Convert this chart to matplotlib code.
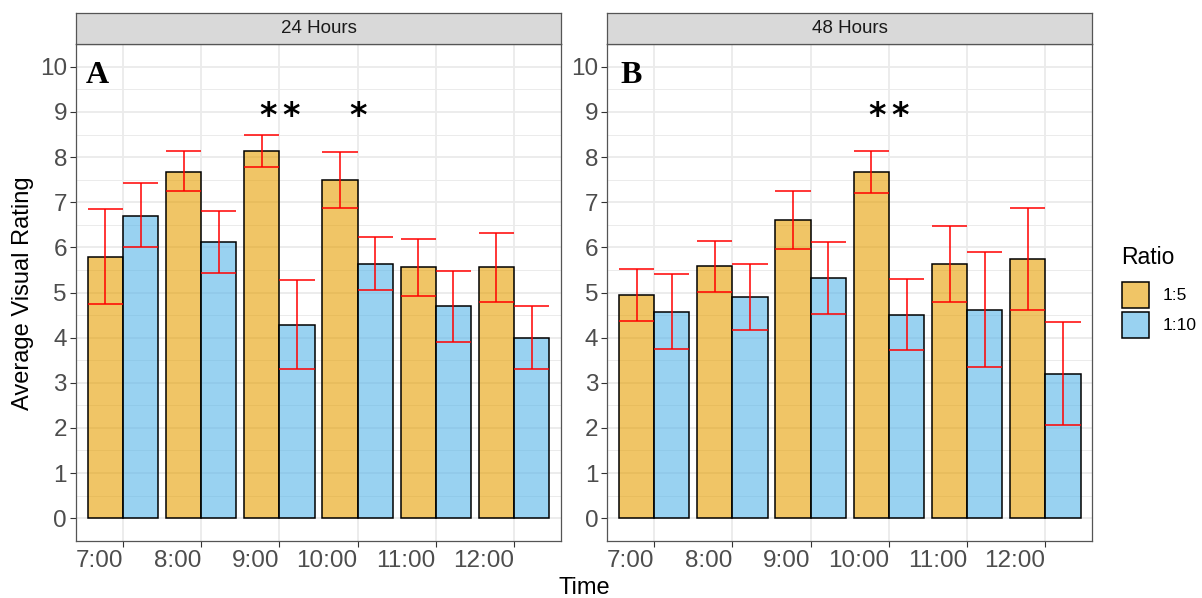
import numpy as np
import matplotlib
matplotlib.use("Agg")
import matplotlib.pyplot as plt
from matplotlib.patches import Rectangle
from matplotlib.colors import to_rgba

plt.rcParams['font.family'] = ['Liberation Sans', 'DejaVu Sans']

# ---------------- data ----------------
times = ["7:00", "8:00", "9:00", "10:00", "11:00", "12:00"]
panels = ["24 Hours", "48 Hours"]
panel_letters = ["A", "B"]
ratios = ["1:5", "1:10"]

# 24 hours
mean_24_r5 = [5.79, 7.68, 8.14, 7.49, 5.56, 5.56]
lo_24_r5 = [4.74, 7.25, 7.77, 6.88, 4.93, 4.79]
hi_24_r5 = [6.84, 8.13, 8.50, 8.11, 6.19, 6.32]
mean_24_r10 = [6.70, 6.11, 4.29, 5.63, 4.69, 4.00]
lo_24_r10 = [6.00, 5.44, 3.31, 5.05, 3.90, 3.30]
hi_24_r10 = [7.43, 6.80, 5.27, 6.22, 5.48, 4.69]

# 48 hours
mean_48_r5 = [4.94, 5.58, 6.60, 7.67, 5.63, 5.75]
lo_48_r5 = [4.36, 5.02, 5.96, 7.20, 4.80, 4.62]
hi_48_r5 = [5.52, 6.14, 7.24, 8.13, 6.48, 6.87]
mean_48_r10 = [4.57, 4.90, 5.32, 4.50, 4.62, 3.19]
lo_48_r10 = [3.74, 4.16, 4.53, 3.72, 3.34, 2.06]
hi_48_r10 = [5.40, 5.64, 6.13, 5.29, 5.90, 4.35]

# significance annotations: (time index, label)
sig_24 = [(2, "**"), (3, "*")]
sig_48 = [(3, "**")]

colors = ["#E69F00", "#56B4E9"]
fill_alpha = 0.6

panel_data = [
    [(mean_24_r5, lo_24_r5, hi_24_r5), (mean_24_r10, lo_24_r10, hi_24_r10)],
    [(mean_48_r5, lo_48_r5, hi_48_r5), (mean_48_r10, lo_48_r10, hi_48_r10)],
]
sigs = [sig_24, sig_48]

# ---------------- figure ----------------
W, H = 1202, 598
fig = plt.figure(figsize=(W / 100, H / 100), dpi=100)

def fx(px):
    return px / W

def fy(py):
    return 1 - py / H

panel_left = [76, 607.3]
panel_right = [561, 1092.3]
panel_top = 44.3
panel_bottom = 540.7
strip_top = 12.7
border_col = "#555555"
letter_pos = [(0.52, 9.64), (0.565, 9.64)]

x = np.arange(1, len(times) + 1)
bw = 0.45
star_gap_pt = 16.5

for p in range(2):
    ax = fig.add_axes([fx(panel_left[p]), fy(panel_bottom),
                       fx(panel_right[p] - panel_left[p]),
                       (panel_bottom - panel_top) / H])
    ax.set_xlim(0.4, 6.6)
    ax.set_ylim(-0.48, 10.5)
    ax.set_axisbelow(True)
    ax.set_yticks(np.arange(0, 11))
    ax.set_yticks(np.arange(-0.5, 10.6, 1.0), minor=True)
    ax.set_xticks(x)
    ax.set_xticklabels(times, ha="right")
    ax.grid(True, which="major", color="#EBEBEB", lw=1.3)
    ax.grid(True, which="minor", axis="y", color="#EBEBEB", lw=0.7)
    ax.tick_params(axis="both", which="major", labelsize=17.5, labelcolor="#4D4D4D",
                   color="#333333", length=4.5, width=0.8, pad=2)
    ax.tick_params(axis="both", which="minor", length=0)
    for s in ax.spines.values():
        s.set_color(border_col)
        s.set_linewidth(0.9)

    for k in range(2):
        m, lo, hi = (np.array(v) for v in panel_data[p][k])
        off = -bw / 2 if k == 0 else bw / 2
        xc = x + off
        ax.bar(xc, m, width=bw, facecolor=to_rgba(colors[k], fill_alpha),
               edgecolor="black", linewidth=1.1, zorder=2)
        ax.vlines(xc, lo, hi, color="red", lw=1.1, zorder=3)
        ax.hlines(lo, xc - bw / 2, xc + bw / 2, color="red", lw=1.1, zorder=3)
        ax.hlines(hi, xc - bw / 2, xc + bw / 2, color="red", lw=1.1, zorder=3)

    for idx, lab in sigs[p]:
        n = len(lab)
        for j in range(n):
            dx = (j - (n - 1) / 2) * star_gap_pt
            ax.annotate("*", xy=(x[idx], 8.69), xytext=(dx, 0),
                        textcoords="offset points", ha="center", va="baseline",
                        fontsize=24, fontweight="bold", color="black",
                        family=["DejaVu Sans"], zorder=4)

    lx, ly = letter_pos[p]
    ax.text(lx, ly, panel_letters[p], ha="left", va="baseline", fontsize=23,
            fontweight="bold", family=["Liberation Serif", "DejaVu Serif"], zorder=4)

    # strip
    sax = fig.add_axes([fx(panel_left[p]), fy(panel_top),
                        fx(panel_right[p] - panel_left[p]),
                        (panel_top - strip_top) / H])
    sax.set_facecolor("#D9D9D9")
    sax.set_xticks([])
    sax.set_yticks([])
    for s in sax.spines.values():
        s.set_color(border_col)
        s.set_linewidth(0.9)
    sax.text(0.5, 0.5, panels[p], ha="center", va="center", fontsize=13.5,
             color="#1A1A1A", transform=sax.transAxes)

# axis titles
fig.text(fx(23), fy(293), "Average Visual Rating", rotation=90, ha="center",
         va="center", fontsize=17, color="black")
fig.text(fx(584), fy(588), "Time", ha="center", va="center", fontsize=17,
         color="black")

# legend
fig.text(fx(1121), fy(258), "Ratio", ha="left", va="center", fontsize=16.5)
key_tops = [281.7, 311.7]
for k in range(2):
    r = Rectangle((fx(1122), fy(key_tops[k] + 26.6)), fx(27), 26.6 / H,
                  transform=fig.transFigure, facecolor=to_rgba(colors[k], fill_alpha),
                  edgecolor="black", linewidth=1.1)
    fig.patches.append(r)
    fig.text(fx(1162.5), fy(key_tops[k] + 13.3), ratios[k], ha="left",
             va="center", fontsize=12.5)

fig.savefig("out.png", dpi=100)
